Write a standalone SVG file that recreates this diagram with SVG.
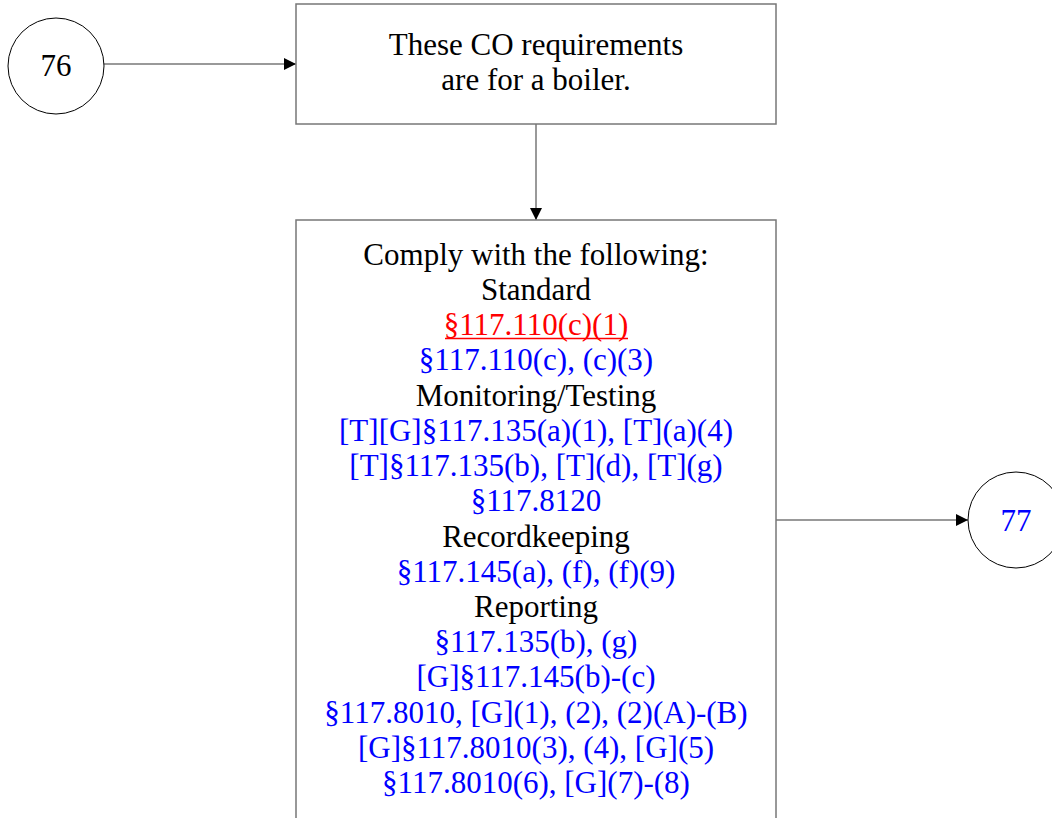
<svg xmlns="http://www.w3.org/2000/svg" width="1052" height="818" viewBox="0 0 1052 818">
<style>
text{font-family:"Liberation Serif","DejaVu Serif",serif;font-size:31px;text-anchor:middle}
.k{fill:#000}.b{fill:#0000ff}.r{fill:#ff0000}
.ul{stroke:#ff0000;stroke-width:1.5}
.box{fill:#fff;stroke:#777;stroke-width:1.5}
.circ{fill:#fff;stroke:#000;stroke-width:1}
.edge{fill:none;stroke:#777;stroke-width:1.5}
</style>
<defs>
<marker id="arr" markerWidth="12" markerHeight="12" refX="12" refY="6" orient="auto" markerUnits="userSpaceOnUse">
<path d="M0,0 L12,6 L0,12 Z" fill="#000"/>
</marker>
</defs>
<rect width="1052" height="818" fill="#fff"/>
<g id="edges">
<line class="edge" x1="104" y1="64" x2="296" y2="64" marker-end="url(#arr)"/>
<line class="edge" x1="536" y1="124" x2="536" y2="220" marker-end="url(#arr)"/>
<line class="edge" x1="776" y1="520" x2="968" y2="520" marker-end="url(#arr)"/>
</g>
<g id="n76">
<circle class="circ" cx="56" cy="66" r="48"/>
<text class="k" x="56" y="76">76</text>
</g>
<g id="n1">
<rect class="box" x="296" y="4" width="480" height="120"/>
<text class="k" x="536" y="55">These CO requirements</text>
<text class="k" x="536" y="90">are for a boiler.</text>
</g>
<g id="n2">
<rect class="box" x="296" y="220" width="480" height="610"/>
<text class="k" x="536" y="265">Comply with the following:</text>
<text class="k" x="536" y="300">Standard</text>
<text class="r" x="536" y="335">§117.110(c)(1)</text>
<line class="ul" x1="445" y1="338.5" x2="628" y2="338.5"/>
<text class="b" x="536" y="370">§117.110(c), (c)(3)</text>
<text class="k" x="536" y="406">Monitoring/Testing</text>
<text class="b" x="536" y="441">[T][G]§117.135(a)(1), [T](a)(4)</text>
<text class="b" x="536" y="476">[T]§117.135(b), [T](d), [T](g)</text>
<text class="b" x="536" y="511">§117.8120</text>
<text class="k" x="536" y="547">Recordkeeping</text>
<text class="b" x="536" y="582">§117.145(a), (f), (f)(9)</text>
<text class="k" x="536" y="617">Reporting</text>
<text class="b" x="536" y="652">§117.135(b), (g)</text>
<text class="b" x="536" y="687">[G]§117.145(b)-(c)</text>
<text class="b" x="536" y="723">§117.8010, [G](1), (2), (2)(A)-(B)</text>
<text class="b" x="536" y="758">[G]§117.8010(3), (4), [G](5)</text>
<text class="b" x="536" y="793">§117.8010(6), [G](7)-(8)</text>
</g>
<g id="n77">
<circle class="circ" cx="1016" cy="520" r="48"/>
<text class="b" x="1016" y="531">77</text>
</g>
</svg>
